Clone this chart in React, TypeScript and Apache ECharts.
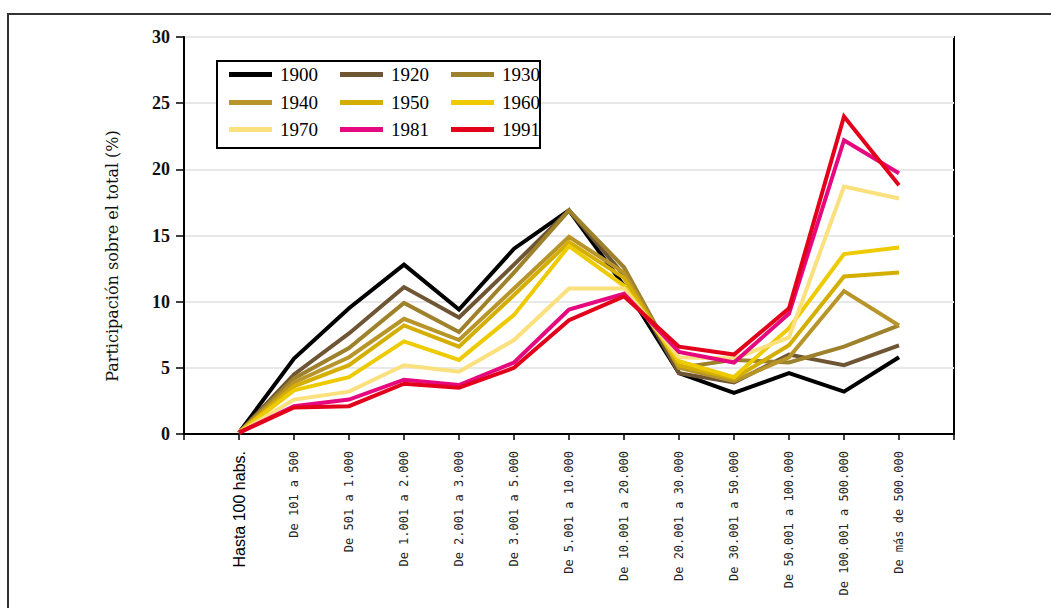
import React, { useEffect, useRef } from "react";
import * as echarts from "echarts";

const categories = [
  "Hasta 100 habs.",
  "De 101 a 500",
  "De 501 a 1.000",
  "De 1.001 a 2.000",
  "De 2.001 a 3.000",
  "De 3.001 a 5.000",
  "De 5.001 a 10.000",
  "De 10.001 a 20.000",
  "De 20.001 a 30.000",
  "De 30.001 a 50.000",
  "De 50.001 a 100.000",
  "De 100.001 a 500.000",
  "De más de 500.000",
];

const yTicks = [0, 5, 10, 15, 20, 25, 30];

const years = ["1900", "1920", "1930", "1940", "1950", "1960", "1970", "1981", "1991"];

const s1900 = [0.1, 5.7, 9.5, 12.8, 9.4, 14.0, 16.9, 11.2, 4.6, 3.1, 4.6, 3.2, 5.8];
const s1920 = [0.1, 4.5, 7.6, 11.1, 8.8, 12.8, 16.9, 12.0, 4.6, 3.9, 6.0, 5.2, 6.7];
const s1930 = [0.1, 4.2, 6.5, 9.9, 7.7, 12.2, 16.9, 12.6, 5.0, 5.6, 5.4, 6.6, 8.2];
const s1940 = [0.1, 3.9, 5.8, 8.7, 7.1, 11.0, 14.9, 12.2, 5.0, 4.0, 5.8, 10.8, 8.2];
const s1950 = [0.1, 3.6, 5.2, 8.2, 6.6, 10.5, 14.5, 11.8, 5.2, 4.2, 6.7, 11.9, 12.2];
const s1960 = [0.1, 3.3, 4.3, 7.0, 5.6, 9.0, 14.2, 11.2, 5.5, 4.3, 8.0, 13.6, 14.1];
const s1970 = [0.1, 2.6, 3.2, 5.2, 4.7, 7.1, 11.0, 11.0, 5.8, 5.7, 7.3, 18.7, 17.8];
const s1981 = [0.1, 2.1, 2.6, 4.1, 3.7, 5.4, 9.4, 10.6, 6.2, 5.4, 9.1, 22.2, 19.7];
const s1991 = [0.1, 2.0, 2.1, 3.8, 3.5, 5.0, 8.6, 10.4, 6.6, 6.0, 9.5, 24.0, 18.8];

const seriesValues = [s1900, s1920, s1930, s1940, s1950, s1960, s1970, s1981, s1991];

const colors = [
  "#000000",
  "#6e5634",
  "#9e812b",
  "#b8952a",
  "#d4ae00",
  "#eecb00",
  "#fbe07e",
  "#e5087e",
  "#e2001a",
];

const legendRows = [
  ["1900", "1920", "1930"],
  ["1940", "1950", "1960"],
  ["1970", "1981", "1991"],
];
const legendTops = [65, 93, 120];

export default function App() {
  const ref = useRef<HTMLDivElement>(null);

  useEffect(() => {
    if (!ref.current) return;
    const chart = echarts.init(ref.current, null, { renderer: "svg" });

    const series = years.map((y, k) => ({
      name: y,
      type: "line",
      data: seriesValues[k].map((v, i) => [i, v]),
      color: colors[k],
      showSymbol: false,
      symbol: "none",
      lineStyle: { width: 4, color: colors[k], join: "miter" },
      itemStyle: { color: colors[k] },
    }));

    const legends = legendRows.map((row, r) => ({
      data: row,
      left: 229,
      top: legendTops[r],
      orient: "horizontal",
      icon: "rect",
      itemWidth: 43,
      itemHeight: 5,
      itemGap: 22,
      padding: 0,
      z: 10,
      selectedMode: false,
      textStyle: {
        fontFamily: "Liberation Serif",
        fontSize: 19,
        color: "#000",
        padding: [0, 0, 0, 3],
      },
    }));

    chart.setOption({
      animation: false,
      backgroundColor: "#ffffff",
      grid: {
        left: 184,
        top: 37,
        right: 97,
        bottom: 174,
        show: true,
        borderColor: "#000",
        borderWidth: 2,
        backgroundColor: "transparent",
      },
      legend: legends,
      xAxis: {
        type: "value",
        min: -1,
        max: 13,
        interval: 1,
        splitLine: { show: false },
        axisLine: { show: true, onZero: false, lineStyle: { color: "#000", width: 2 } },
        axisTick: { show: true, length: 6, lineStyle: { color: "#000", width: 1.5 } },
        axisLabel: {
          rotate: 90,
          margin: 17,
          fontFamily: "DejaVu Sans Mono",
          fontSize: 12,
          color: "#222",
          showMinLabel: true,
          showMaxLabel: true,
          formatter: (v: number) => {
            const i = Math.round(v);
            if (i < 0 || i >= categories.length) return "";
            if (i === 0) return "{h|" + categories[0] + "}";
            return categories[i];
          },
          rich: {
            h: { fontFamily: "Liberation Sans", fontSize: 16, color: "#000" },
          },
        },
      },
      yAxis: {
        type: "value",
        min: yTicks[0],
        max: yTicks[yTicks.length - 1],
        interval: 5,
        axisLine: { show: true, onZero: false, lineStyle: { color: "#000", width: 2 } },
        axisTick: { show: true, length: 8, lineStyle: { color: "#000", width: 1.5 } },
        splitLine: { show: true, lineStyle: { color: "#e8e8e8", width: 2 } },
        axisLabel: {
          margin: 14,
          fontFamily: "Liberation Serif",
          fontWeight: "bold",
          fontSize: 18,
          color: "#111",
        },
      },
      graphic: [
        {
          type: "rect",
          z: 0,
          silent: true,
          shape: { x: 8, y: 14, width: 1100, height: 800 },
          style: { fill: "none", stroke: "#333", lineWidth: 2 },
        },
        {
          type: "rect",
          z: 3,
          silent: true,
          shape: { x: 217, y: 61, width: 323, height: 87 },
          style: { fill: "#fff", stroke: "#000", lineWidth: 2 },
        },
        {
          type: "text",
          z: 3,
          x: 112,
          y: 256,
          rotation: Math.PI / 2,
          style: {
            text: "Participación sobre el total (%)",
            fontFamily: "DejaVu Serif",
            fontSize: 16,
            fill: "#111",
            align: "center",
            verticalAlign: "middle",
          },
        },
      ],
      series,
    });

    return () => chart.dispose();
  }, []);

  return (
    <div
      ref={ref}
      style={{ position: "fixed", left: 0, top: 0, width: 1051, height: 608 }}
    />
  );
}
